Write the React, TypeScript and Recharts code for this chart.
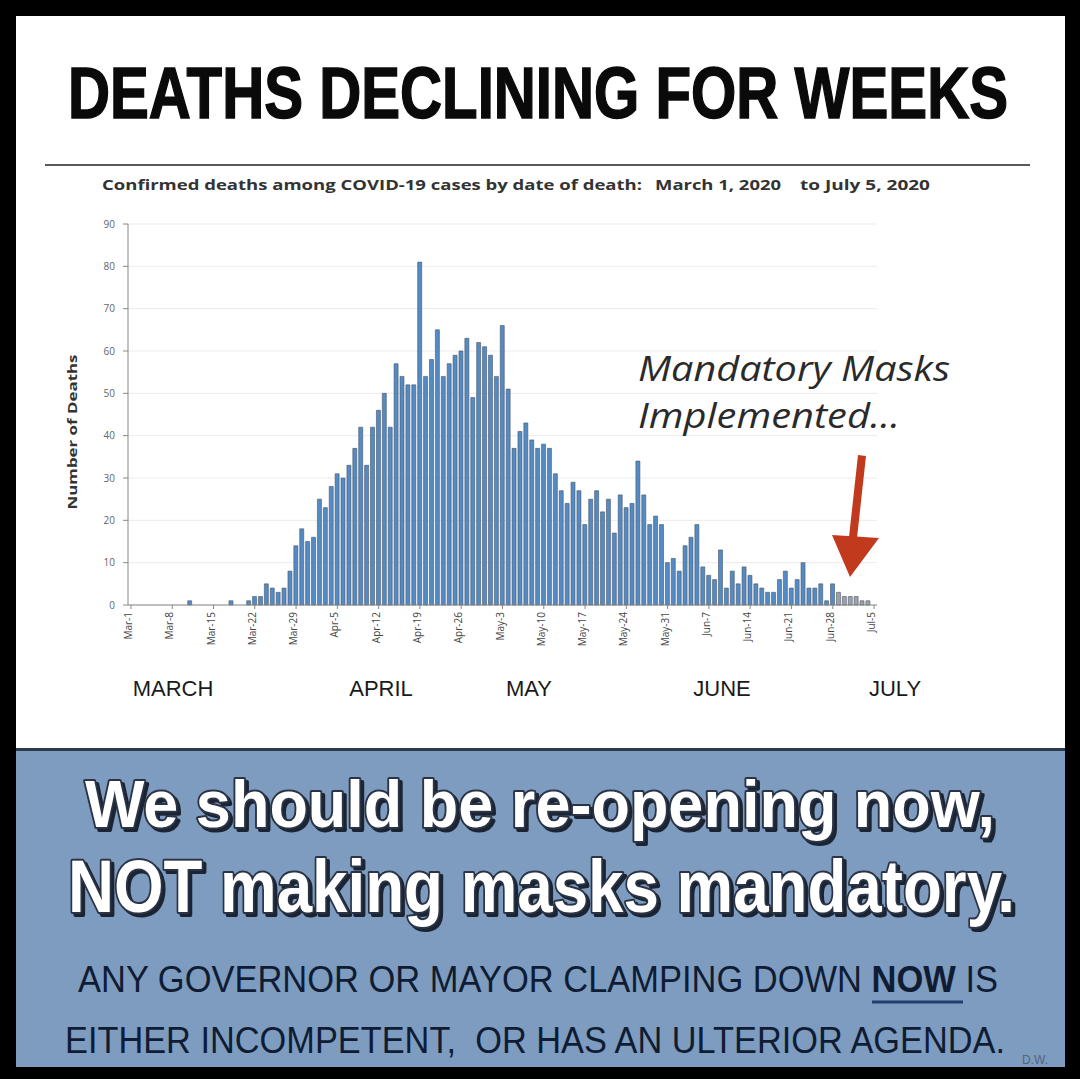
import { BarChart, Bar, Cell, XAxis, YAxis, CartesianGrid } from "recharts";

// daily confirmed deaths, Mar 1 .. Jul 5 2020
const deaths = [
  0, 0, 0, 0, 0, 0, 0, 0, 0, 0,
  1, 0, 0, 0, 0, 0, 0, 1, 0, 0,
  1, 2, 2, 5, 4, 3, 4, 8, 14, 18,
  15, 16, 25, 23, 28, 31, 30, 33, 37, 42,
  33, 42, 46, 50, 42, 57, 54, 52, 52, 81,
  54, 58, 65, 54, 57, 59, 60, 63, 49, 62,
  61, 59, 54, 66, 51, 37, 41, 43, 39, 37,
  38, 37, 31, 27, 24, 29, 27, 19, 25, 27,
  22, 25, 17, 26, 23, 24, 34, 26, 19, 21,
  19, 10, 11, 8, 14, 16, 19, 9, 7, 6,
  13, 4, 8, 5, 9, 7, 5, 4, 3, 3,
  6, 8, 4, 6, 10, 4, 4, 5, 1, 5,
  3, 2, 2, 2, 1, 1, 0,
];

// last days drawn in grey (still being reported)
const lagFrom = 120;

const weekTicks = [
  "Mar-1", "Mar-8", "Mar-15", "Mar-22", "Mar-29", "Apr-5", "Apr-12",
  "Apr-19", "Apr-26", "May-3", "May-10", "May-17", "May-24", "May-31",
  "Jun-7", "Jun-14", "Jun-21", "Jun-28", "Jul-5",
];

const yTicks = [0, 10, 20, 30, 40, 50, 60, 70, 80, 90];

const months = ["MARCH", "APRIL", "MAY", "JUNE", "JULY"];

const MON = ["Jan", "Feb", "Mar", "Apr", "May", "Jun", "Jul"];

const data = deaths.map((v, i) => {
  const d = new Date(2020, 2, 1 + i);
  return { label: `${MON[d.getMonth()]}-${d.getDate()}`, deaths: v };
});

const monthX = [173, 381, 529, 722, 895];

const SANS = "'Liberation Sans', Arial, sans-serif";

function DateTick({ x, y, payload }: any) {
  const tx = x - 3;
  const ty = y + 1;
  return (
    <text
      x={tx}
      y={ty}
      transform={`rotate(-90, ${tx}, ${ty})`}
      textAnchor="end"
      dominantBaseline="central"
      fontSize={10}
      fontFamily="'Open Sans', sans-serif"
      fill="#444"
    >
      {payload.value}
    </text>
  );
}

// white slogan with dark outline and drop shadow
function Headline({ x, y, size, width, children }: any) {
  const common = {
    fontSize: size,
    fontWeight: 700,
    fontFamily: SANS,
    textLength: width,
    lengthAdjust: "spacingAndGlyphs",
    strokeLinejoin: "round" as const,
  };
  return (
    <g>
      <text {...common} x={x + 3} y={y + 3} fill="#1b2433" stroke="#1b2433" strokeWidth={4}>
        {children}
      </text>
      <text {...common} x={x} y={y} fill="#ffffff" stroke="#2b3446" strokeWidth={4} paintOrder="stroke">
        {children}
      </text>
    </g>
  );
}

export default function App() {
  return (
    <div
      style={{
        position: "absolute",
        left: 0,
        top: 0,
        width: 1080,
        height: 1079,
        background: "#000",
        overflow: "hidden",
      }}
    >
      <div
        style={{
          position: "absolute",
          left: 16,
          top: 16,
          width: 1049,
          height: 732,
          background: "#fff",
        }}
      />
      <div
        style={{
          position: "absolute",
          left: 16,
          top: 748,
          width: 1049,
          height: 319,
          background: "#7d9cbf",
          borderTop: "3px solid #2c3a4c",
          boxSizing: "border-box",
        }}
      />

      <div style={{ position: "absolute", left: 0, top: 0 }}>
        <BarChart
          width={1080}
          height={1079}
          data={data}
          margin={{ top: 224, right: 203, bottom: 414, left: 88 }}
          barCategoryGap="12%"
        >
          <CartesianGrid vertical={false} stroke="#ebebeb" />
          <XAxis
            dataKey="label"
            ticks={weekTicks}
            interval={0}
            height={60}
            tick={<DateTick />}
            tickSize={4}
            tickLine={{ stroke: "#888" }}
            axisLine={{ stroke: "#888" }}
          />
          <YAxis
            width={40}
            domain={[0, 90]}
            ticks={yTicks}
            interval={0}
            tickSize={5}
            tickMargin={8}
            tick={{ fontSize: 10, fill: "#666", fontFamily: "'Open Sans', sans-serif" }}
            tickLine={{ stroke: "#888" }}
            axisLine={{ stroke: "#888" }}
          />
          <Bar
            dataKey="deaths"
            stroke="#4a5462"
            strokeWidth={0.6}
            isAnimationActive={false}
          >
            {data.map((_, i) => (
              <Cell key={i} fill={i >= lagFrom ? "#9ca3ab" : "#528bc6"} />
            ))}
          </Bar>
        </BarChart>
      </div>

      <svg
        width={1080}
        height={1079}
        style={{ position: "absolute", left: 0, top: 0, pointerEvents: "none" }}
      >
        <text
          x={68}
          y={118}
          fontSize={72}
          fontWeight={700}
          fontFamily={SANS}
          textLength={940}
          lengthAdjust="spacingAndGlyphs"
          fill="#0a0a0a"
          stroke="#0a0a0a"
          strokeWidth={1.5}
        >
          DEATHS DECLINING FOR WEEKS
        </text>
        <line x1={45} x2={1030} y1={165} y2={165} stroke="#222" strokeWidth={1.5} />

        <g fontSize={14} fontWeight={700} fontFamily="'Open Sans', sans-serif" fill="#333">
          <text x={102} y={190} textLength={540} lengthAdjust="spacingAndGlyphs">
            Confirmed deaths among COVID-19 cases by date of death:
          </text>
          <text x={655} y={190} textLength={126} lengthAdjust="spacingAndGlyphs">
            March 1, 2020
          </text>
          <text x={800} y={190} textLength={130} lengthAdjust="spacingAndGlyphs">
            to July 5, 2020
          </text>
        </g>

        <text
          transform="translate(77,432) rotate(-90)"
          textAnchor="middle"
          fontSize={13}
          fontWeight={700}
          fontFamily="'Open Sans', sans-serif"
          fill="#333"
          textLength={155}
          lengthAdjust="spacingAndGlyphs"
        >
          Number of Deaths
        </text>

        <g fontSize={34} fontStyle="italic" fontFamily="'Open Sans', sans-serif" fill="#2a2a2a">
          <text x={638} y={381} textLength={312} lengthAdjust="spacingAndGlyphs">
            Mandatory Masks
          </text>
          <text x={638} y={428} textLength={262} lengthAdjust="spacingAndGlyphs">
            Implemented...
          </text>
        </g>

        <g fill="#c23a1e">
          <polygon points="858,455 866,456 857,538 849,537" />
          <polygon points="832,535 879,538 850,577" />
        </g>

        <g fontSize={22} fontFamily={SANS} fill="#1a1a1a" textAnchor="middle">
          {months.map((m, i) => (
            <text key={m} x={monthX[i]} y={696}>
              {m}
            </text>
          ))}
        </g>

        <Headline x={85} y={827} size={66} width={910}>
          We should be re-opening now,
        </Headline>
        <Headline x={68} y={912} size={74} width={947}>
          NOT making masks mandatory.
        </Headline>

        <g fontSize={37} fontFamily={SANS} fill="#0f1c33">
          <text x={78} y={992} textLength={920} lengthAdjust="spacingAndGlyphs">
            ANY GOVERNOR OR MAYOR CLAMPING DOWN <tspan fontWeight={700}>NOW</tspan> IS
          </text>
          <text
            x={65}
            y={1053}
            textLength={940}
            lengthAdjust="spacingAndGlyphs"
            style={{ whiteSpace: "pre" }}
          >
            {"EITHER INCOMPETENT,  OR HAS AN ULTERIOR AGENDA."}
          </text>
        </g>
        <line x1={872} x2={963} y1={1002} y2={1002} stroke="#1f3d70" strokeWidth={3} />
        <text x={1022} y={1064} fontSize={12} fontFamily={SANS} fill="#53647e">
          D.W.
        </text>
      </svg>
    </div>
  );
}
